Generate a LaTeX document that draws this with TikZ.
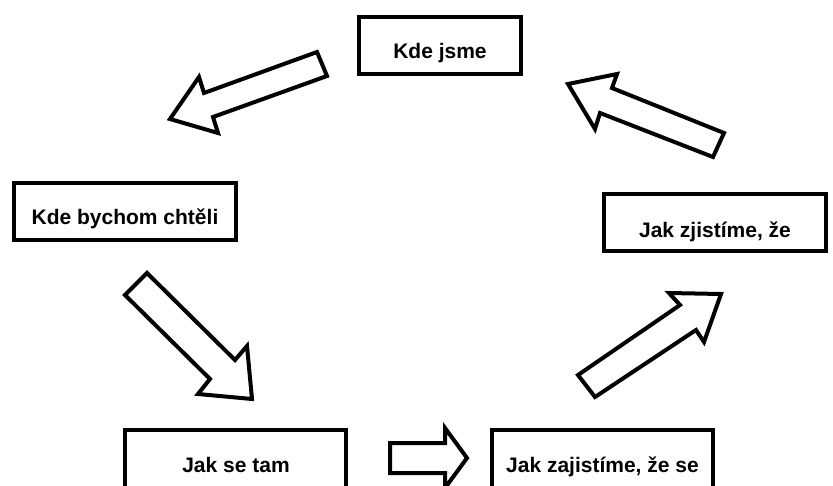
\documentclass[tikz,border=0pt]{standalone}
\usepackage{fontspec}
\setmainfont{Liberation Sans}
\begin{document}
\begin{tikzpicture}[x=1pt,y=-1pt,
  box/.style={draw, line width=3.5pt, fill=white, inner sep=0pt},
  lbl/.style={font=\fontsize{21}{25}\selectfont\bfseries, anchor=base, inner sep=0pt},
  barrow/.style={draw, line width=4pt, line join=miter, fill=white}]
\useasboundingbox (0,0) rectangle (833,485);
\clip (0,0) rectangle (833,485);
% boxes
\node[box, minimum width=162pt, minimum height=57pt] (b1) at (440,45.5) {};
\node[lbl] (t1) at (440,58) {Kde jsme};
\node[box, minimum width=222pt, minimum height=57pt] (b2) at (125,211.5) {};
\node[lbl] (t2) at (125,224) {Kde bychom chtěli};
\node[box, minimum width=221pt, minimum height=90pt] (b3) at (235.5,475) {};
\node[lbl] (t3) at (236,472) {Jak se tam};
\node[box, minimum width=221pt, minimum height=90pt] (b4) at (602.5,475) {};
\node[lbl] (t4) at (602.5,472) {Jak zajistíme, že se};
\node[box, minimum width=222pt, minimum height=57pt] (b5) at (715,222.5) {};
\node[lbl] (t5) at (715,237) {Jak zjistíme, že};
% block arrows
\draw[barrow] (317,52) -- (327,76) -- (213,117) -- (218,133) -- (170,119) -- (199,77) -- (204,93) -- cycle;
\draw[barrow] (147,273) -- (125,295) -- (210,379) -- (198,394) -- (252,399) -- (247,346) -- (235,360) -- cycle;
\draw[barrow] (390,443) -- (445,443) -- (445,428) -- (467,458) -- (445,488) -- (445,473) -- (390,473) -- cycle;
\draw[barrow] (578,375) -- (595,397) -- (696,330) -- (704,342) -- (721,294) -- (669,293) -- (680,305) -- cycle;
\draw[barrow] (724,133) -- (713,157) -- (600,113) -- (595,129) -- (568,84) -- (617,74) -- (612,88) -- cycle;
\end{tikzpicture}
\end{document}
